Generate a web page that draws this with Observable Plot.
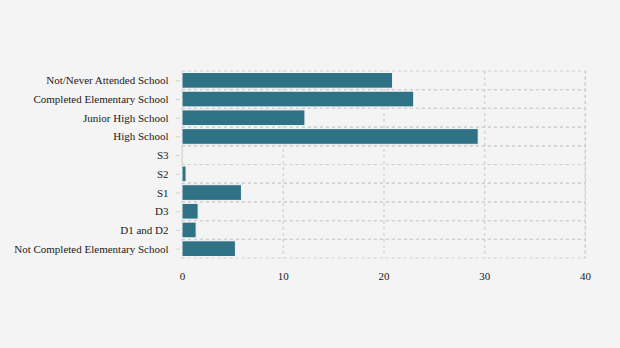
<!DOCTYPE html>
<html>
<head>
<meta charset="utf-8">
<script src="https://cdn.jsdelivr.net/npm/d3@7"></script>
<script src="https://cdn.jsdelivr.net/npm/@observablehq/plot@0.6"></script>
<style>
  html, body { margin: 0; padding: 0; background: #f4f4f4; }
</style>
</head>
<body>
<div id="chart"></div>
<script>
const categories = [
  "Not/Never Attended School",
  "Completed Elementary School",
  "Junior High School",
  "High School",
  "S3",
  "S2",
  "S1",
  "D3",
  "D1 and D2",
  "Not Completed Elementary School"
];
const values = [20.9, 23.0, 12.2, 29.4, 0, 0.4, 5.9, 1.6, 1.4, 5.3];
const xTicks = [0, 10, 20, 30, 40];

const data = categories.map((c, i) => ({category: c, value: values[i]}));

const chart = Plot.plot({
  width: 620,
  height: 348,
  marginTop: 71,
  marginBottom: 90,
  marginLeft: 182,
  marginRight: 35,
  style: {background: "#f4f4f4", fontFamily: "'Liberation Serif', 'Times New Roman', serif", fontSize: "11px", color: "#222"},
  x: {domain: [0, 40], ticks: xTicks, label: null},
  y: {domain: categories, padding: 0, round: false, label: null},
  marks: [
    Plot.gridX(xTicks, {stroke: "#d0d0d0", strokeOpacity: 1, strokeDasharray: "3,3", strokeWidth: 1.2}),
    Plot.barX(categories, {y: d => d, x1: 0, x2: 40, fill: "none", stroke: "#d0d0d0", strokeDasharray: "3,3", strokeWidth: 1.2}),
    Plot.barX(data, {y: "category", x: "value", fill: "#2f7185", stroke: "#f4f4f4", strokeWidth: 1, insetTop: 1.5, insetBottom: 1.5}),
    Plot.axisY({tickSize: 4, tickPadding: 8, dx: -2, stroke: "#d0d0d0", fill: "#1a1a1a", label: null}),
    Plot.axisX(xTicks, {tickSize: 0, tickPadding: 14, fill: "#1a1a1a", label: null})
  ]
});
document.getElementById("chart").appendChild(chart);
</script>
</body>
</html>
